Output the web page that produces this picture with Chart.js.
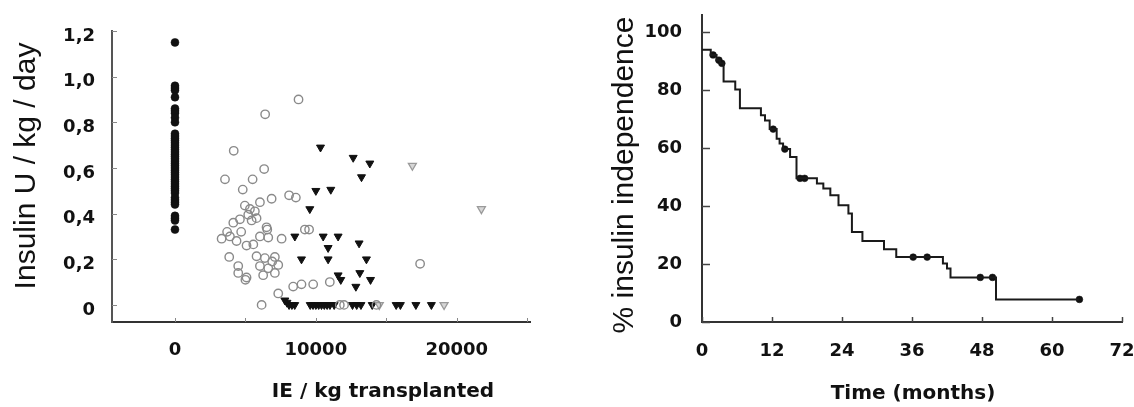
<!DOCTYPE html>
<html><head><meta charset="utf-8">
<script src="https://cdn.jsdelivr.net/npm/chart.js@4.4.0/dist/chart.umd.min.js"></script>
<style>
html,body{margin:0;padding:0;background:#fff;}
#wrap{position:relative;width:1134px;height:407px;overflow:hidden;background:#fff;}
.box{position:absolute;top:0;height:407px;}
</style></head><body>
<div id="wrap">
<div class="box" style="left:0;width:560px"><canvas id="c1" width="560" height="407"></canvas></div>
<div class="box" style="left:560px;width:574px"><canvas id="c2" width="574" height="407"></canvas></div>
</div>
<script>
// ---------- Left panel data ----------
const leftXTicks = [0, 5000, 10000, 15000, 20000, 25000];
const leftXTickLabels = ['0', '', '10000', '', '20000', ''];
const leftYTicks = [0, 0.2, 0.4, 0.6, 0.8, 1.0, 1.2];
const leftYTickLabels = ['0', '0,2', '0,4', '0,6', '0,8', '1,0', '1,2'];

// insulin-dependent before transplant (IE = 0)
const baselineInsulin = [1.15, 0.96, 0.95, 0.94, 0.91, 0.86, 0.85, 0.84, 0.82, 0.80, 0.75, 0.74, 0.73, 0.72, 0.71,
  0.70, 0.69, 0.68, 0.67, 0.66, 0.65, 0.64, 0.63, 0.62, 0.61, 0.60, 0.59, 0.58, 0.57, 0.56, 0.55, 0.54, 0.53,
  0.52, 0.51, 0.50, 0.49, 0.47, 0.46, 0.45, 0.44, 0.39, 0.38, 0.37, 0.33];

// open grey circles
const circleIE = [8770, 6400, 4170, 3550, 6330, 5510, 4810, 6860, 8100, 8580,
  4960, 5320, 5670, 6030, 4140, 4610, 5440, 5790, 5200, 6500, 6550,
  3310, 3900, 4370, 5080, 5560, 6030, 4700, 3700, 6620, 7570,
  3850, 4490, 4490, 5080, 5000, 5790, 6380, 7090, 6030, 6620, 7330, 6260, 7090, 6900,
  9220, 9520, 7330, 6150, 8390, 8980, 9810, 10990, 17400, 11700, 12000, 14300];
const circleInsulin = [0.90, 0.835, 0.675, 0.55, 0.595, 0.55, 0.505, 0.465, 0.48, 0.47,
  0.435, 0.42, 0.41, 0.45, 0.36, 0.375, 0.37, 0.38, 0.395, 0.34, 0.33,
  0.29, 0.30, 0.28, 0.26, 0.265, 0.30, 0.32, 0.32, 0.295, 0.29,
  0.21, 0.17, 0.14, 0.12, 0.11, 0.213, 0.205, 0.21, 0.17, 0.16, 0.175, 0.13, 0.14, 0.19,
  0.33, 0.33, 0.05, 0.0, 0.08, 0.09, 0.09, 0.10, 0.18, 0.0, 0.0, 0.0];

// black filled triangles
const triIE = [10330, 12650, 13830, 13240, 10000, 11060, 9570, 8510, 10520, 11580, 10870, 13070,
  8980, 10870, 13590, 11580, 11770, 13120, 13880, 12840,
  7800, 7950, 8100, 8300, 8500, 9600, 9800, 10000, 10200, 10400, 10600, 10800, 11000, 11300,
  12600, 12900, 13200, 14000, 15700, 16000, 17100, 18200];
const triInsulin = [0.69, 0.645, 0.62, 0.56, 0.50, 0.505, 0.42, 0.30, 0.30, 0.30, 0.25, 0.27,
  0.20, 0.20, 0.20, 0.13, 0.11, 0.14, 0.11, 0.08,
  0.02, 0.01, 0.0, 0.0, 0.0, 0.0, 0.0, 0.0, 0.0, 0.0, 0.0, 0.0, 0.0, 0.0,
  0.0, 0.0, 0.0, 0.0, 0.0, 0.0, 0.0, 0.0];

// light grey triangles
const greyTriIE = [16850, 21750, 19100, 14500];
const greyTriInsulin = [0.61, 0.42, 0.0, 0.0];

// ---------- Right panel data (Kaplan-Meier) ----------
const kmTime = [0, 1.5, 2.5, 3.1, 3.7, 5.7, 6.5, 10.1, 10.8, 11.6, 12.8, 13.3, 13.9, 15.1, 16.2, 19.7, 20.8,
  22.0, 23.4, 25.1, 25.7, 27.5, 31.2, 33.3, 41.3, 42.0, 42.6, 50.4, 64.7];
const kmPercent = [94, 92.2, 90.4, 89.3, 83.0, 80.3, 73.8, 71.4, 69.6, 66.6, 63.3, 61.6, 59.7, 57.0, 49.6, 47.8, 46.1,
  43.8, 40.3, 37.5, 31.1, 28.0, 25.1, 22.4, 20.2, 18.5, 15.4, 7.8, 7.8];
const censorTime = [1.9, 2.9, 3.4, 12.2, 14.2, 16.8, 17.6, 36.2, 38.6, 47.7, 49.8, 64.7];
const censorPercent = [92.2, 90.4, 89.3, 66.6, 59.7, 49.6, 49.6, 22.4, 22.4, 15.4, 15.4, 7.8];
const rightXTicks = [0, 12, 24, 36, 48, 60, 72];
const rightXTickLabels = ['0', '12', '24', '36', '48', '60', '72'];
const rightYTicks = [0, 20, 40, 60, 80, 100];
const rightYTickLabels = ['0', '20', '40', '60', '80', '100'];

// ---------- helpers ----------
const pts = (xs, ys) => xs.map((x, i) => ({x: x, y: ys[i]}));

const innerTicks = {
  id: 'innerTicks',
  afterDraw(chart, args, o) {
    const {ctx, chartArea} = chart;
    const xs = chart.scales.x, ys = chart.scales.y;
    ctx.save();
    ctx.strokeStyle = o.color; ctx.lineWidth = o.width;
    ys.ticks.forEach(t => {
      const y = Math.round(ys.getPixelForValue(t.value)) + 0.5;
      ctx.beginPath(); ctx.moveTo(chartArea.left, y); ctx.lineTo(chartArea.left + o.yLen, y); ctx.stroke();
    });
    xs.ticks.forEach(t => {
      const x = Math.round(xs.getPixelForValue(t.value)) + 0.5;
      ctx.beginPath(); ctx.moveTo(x, chartArea.bottom); ctx.lineTo(x, chartArea.bottom - o.xLen); ctx.stroke();
    });
    ctx.restore();
  }
};

const axisTitles = {
  id: 'axisTitles',
  afterDraw(chart, args, o) {
    const ctx = chart.ctx;
    (o.items || []).forEach(it => {
      ctx.save();
      ctx.font = it.font; ctx.fillStyle = it.color || '#111';
      ctx.textAlign = 'center'; ctx.textBaseline = 'middle';
      ctx.translate(it.x, it.y);
      if (it.rotate) ctx.rotate(it.rotate);
      ctx.fillText(it.text, 0, 0);
      ctx.restore();
    });
  }
};

const tickFont = {family: 'DejaVu Sans', size: 18, weight: 'bold'};

function makeScale(cfg) {
  return {
    type: 'linear',
    min: cfg.min, max: cfg.max,
    afterBuildTicks: s => { s.ticks = cfg.ticks.map(v => ({value: v})); },
    afterFit: s => {
      if (cfg.width !== undefined) s.width = cfg.width;
      if (cfg.height !== undefined) s.height = cfg.height;
      s.paddingLeft = 0; s.paddingRight = 0; s.paddingTop = 0; s.paddingBottom = 0;
    },
    grid: {display: false, drawTicks: false},
    border: {display: true, color: cfg.borderColor || '#333', width: 2},
    ticks: {
      font: tickFont, color: '#111', padding: cfg.padding, labelOffset: cfg.labelOffset || 0,
      autoSkip: false, maxRotation: 0,
      callback: (v) => { const i = cfg.ticks.indexOf(v); return i >= 0 ? cfg.labels[i] : ''; }
    }
  };
}

// ---------- Left chart ----------
new Chart(document.getElementById('c1'), {
  type: 'scatter',
  data: {
    datasets: [
      {data: pts(circleIE, circleInsulin), pointStyle: 'circle', pointRadius: 4.2, borderColor: '#8a8a8a',
        backgroundColor: 'rgba(255,255,255,0)', borderWidth: 1.4},
      {data: pts(greyTriIE, greyTriInsulin), pointStyle: 'triangle', rotation: 180, pointRadius: 4.6,
        borderColor: '#9a9a9a', backgroundColor: '#d6d6d6', borderWidth: 1.3},
      {data: pts(triIE, triInsulin), pointStyle: 'triangle', rotation: 180, pointRadius: 4.6,
        borderColor: '#111', backgroundColor: '#111', borderWidth: 1},
      {data: pts(baselineInsulin.map(() => 0), baselineInsulin), pointStyle: 'circle', pointRadius: 4,
        borderColor: '#111', backgroundColor: '#111', borderWidth: 0.5}
    ]
  },
  options: {
    responsive: false, animation: false, devicePixelRatio: 1,
    layout: {padding: {left: 0, top: 31, right: 30, bottom: 0}},
    plugins: {
      legend: {display: false}, tooltip: {enabled: false},
      innerTicks: {color: '#888', width: 1, yLen: 5, xLen: 4},
      axisTitles: {items: [
        {text: 'Insulin U / kg / day', x: 27, y: 166, rotate: -Math.PI / 2, font: '30px "Liberation Sans", Arial, sans-serif', color: '#111'},
        {text: 'IE / kg transplanted', x: 383, y: 392, font: 'bold 20px "DejaVu Sans", sans-serif', color: '#111'}
      ]}
    },
    scales: {
      x: makeScale({min: -4470, max: 25200, ticks: leftXTicks, labels: leftXTickLabels, height: 85, padding: 18, borderColor: '#333'}),
      y: makeScale({min: -0.075, max: 1.2, ticks: leftYTicks, labels: leftYTickLabels, width: 112, padding: 17, labelOffset: 5, borderColor: '#555'})
    }
  },
  plugins: [innerTicks, axisTitles]
});

// ---------- Right chart ----------
new Chart(document.getElementById('c2'), {
  type: 'line',
  data: {
    datasets: [
      {data: pts(kmTime, kmPercent), stepped: 'before', borderColor: '#1a1a1a', borderWidth: 2,
        pointRadius: 0, fill: false},
      {type: 'scatter', data: pts(censorTime, censorPercent), pointStyle: 'circle', pointRadius: 3.4,
        borderColor: '#111', backgroundColor: '#111', borderWidth: 0.5}
    ]
  },
  options: {
    responsive: false, animation: false, devicePixelRatio: 1,
    layout: {padding: {left: 0, top: 15, right: 12, bottom: 0}},
    plugins: {
      legend: {display: false}, tooltip: {enabled: false},
      innerTicks: {color: '#444', width: 1.5, yLen: 8, xLen: 5},
      axisTitles: {items: [
        {text: '% insulin independence', x: 65, y: 175, rotate: -Math.PI / 2, font: '30px "Liberation Sans", Arial, sans-serif', color: '#111'},
        {text: 'Time (months)', x: 353, y: 394, font: 'bold 20px "DejaVu Sans", sans-serif', color: '#111'}
      ]}
    },
    scales: {
      x: makeScale({min: 0, max: 72, ticks: rightXTicks, labels: rightXTickLabels, height: 85, padding: 19}),
      y: makeScale({min: 0, max: 106, ticks: rightYTicks, labels: rightYTickLabels, width: 142, padding: 20})
    }
  },
  plugins: [innerTicks, axisTitles]
});
</script>
</body></html>
